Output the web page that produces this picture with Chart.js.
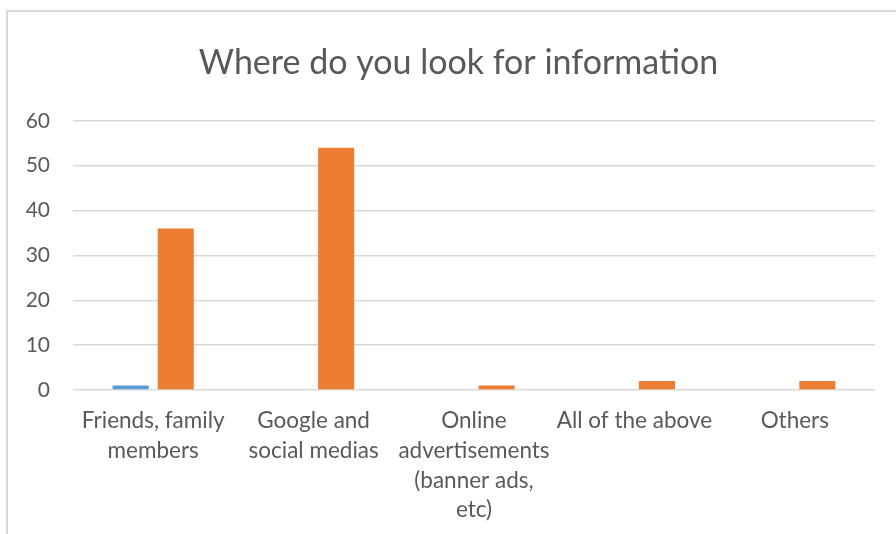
<!DOCTYPE html>
<html>
<head>
<meta charset="utf-8">
<script src="https://cdn.jsdelivr.net/npm/chart.js@4.4.1/dist/chart.umd.min.js"></script>
<style>
  html, body { margin: 0; padding: 0; background: #fff; overflow: hidden; width: 896px; height: 534px; }
  #frame { position: absolute; left: 6px; top: 10px; width: 2000px; height: 2000px; border: 2px solid #d9d9d9; box-sizing: border-box; }
  #wrap { position: absolute; left: 0; top: 0; width: 917px; height: 534px; }
</style>
</head>
<body>
<div id="frame"></div>
<div id="wrap"><canvas id="chart" width="917" height="534"></canvas></div>
<script>
const chartTitle = 'Where do you look for information';
const categories = [
  ['Friends, family', 'members'],
  ['Google and', 'social medias'],
  ['Online', 'advertisements', '(banner ads,', 'etc)'],
  'All of the above',
  'Others'
];
const seriesBlue = [1, 0, 0, 0, 0];
const seriesOrange = [36, 54, 1, 2, 2];
const yTicks = { min: 0, max: 60, step: 10 };

const textColor = '#595959';
const gridColor = '#d9d9d9';

function draw() {
  Chart.defaults.font.family = 'Lato, "Open Sans", sans-serif';
  Chart.defaults.color = textColor;

  new Chart(document.getElementById('chart'), {
    type: 'bar',
    data: {
      labels: categories,
      datasets: [
        { label: 'Series1', data: seriesBlue, backgroundColor: '#5B9BD5', categoryPercentage: 0.5625, barPercentage: 0.8 },
        { label: 'Series2', data: seriesOrange, backgroundColor: '#ED7D31', categoryPercentage: 0.5625, barPercentage: 0.8 }
      ]
    },
    options: {
      responsive: false,
      animation: false,
      layout: { padding: 0 },
      plugins: {
        legend: { display: false },
        tooltip: { enabled: false },
        title: {
          display: true,
          text: chartTitle,
          color: textColor,
          font: { size: 34, weight: 'normal', lineHeight: 1.2 },
          padding: { top: 43, bottom: 37 }
        }
      },
      scales: {
        x: {
          grid: { display: false, drawTicks: false },
          border: { display: false },
          ticks: { color: textColor, font: { size: 22.5, lineHeight: 1.32 }, padding: 16, maxRotation: 0, autoSkip: false },
          afterFit(s) { s.height = 144; }
        },
        y: {
          min: yTicks.min,
          max: yTicks.max,
          grid: { color: gridColor, lineWidth: 1.5, drawTicks: false },
          border: { display: false },
          ticks: { stepSize: yTicks.step, color: textColor, font: { size: 21 }, padding: 23 },
          afterFit(s) { s.width = 73; }
        },
        yRight: {
          position: 'right',
          display: true,
          grid: { display: false, drawTicks: false },
          border: { display: false },
          ticks: { display: false },
          afterFit(s) { s.width = 42; }
        }
      }
    }
  });
}

if (document.fonts && document.fonts.load) {
  Promise.all([document.fonts.load('22px Lato'), document.fonts.load('34px Lato')]).then(draw, draw);
} else {
  draw();
}
</script>
</body>
</html>
